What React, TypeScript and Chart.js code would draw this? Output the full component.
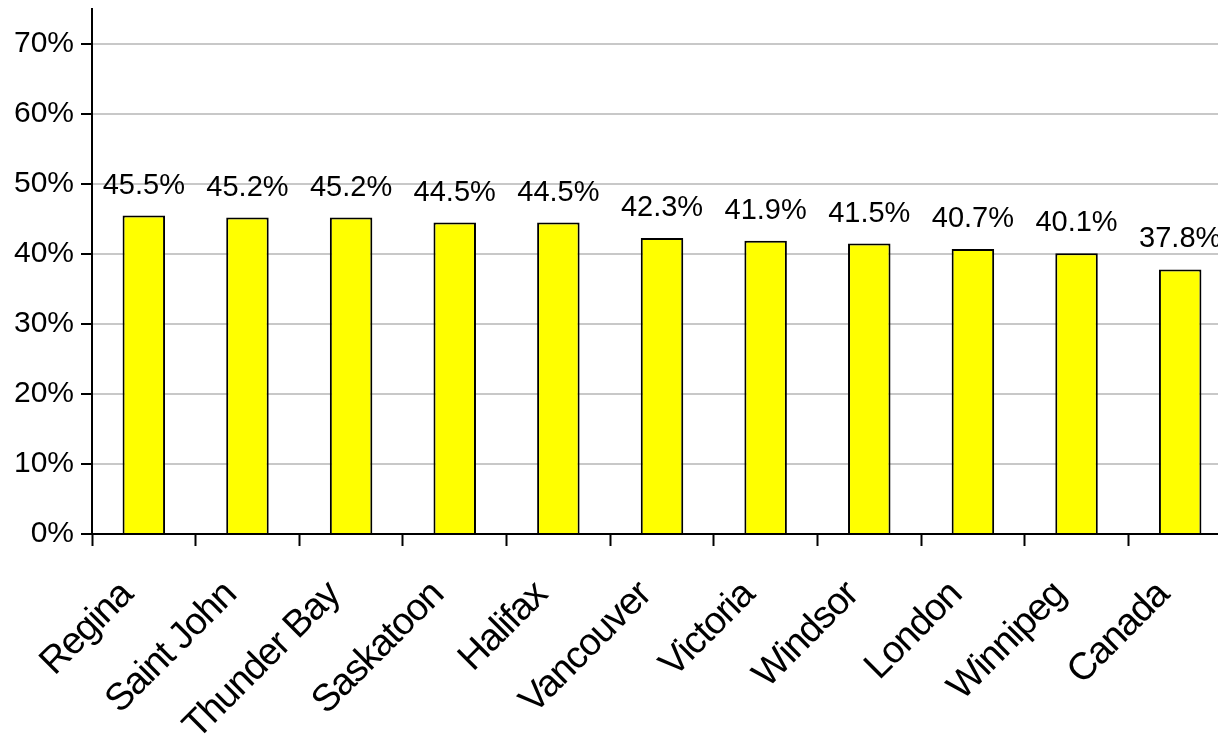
import React, { useEffect, useRef } from "react";
import { Chart, registerables } from "chart.js";

Chart.register(...registerables);

const categories = ["Regina", "Saint John", "Thunder Bay", "Saskatoon", "Halifax", "Vancouver", "Victoria", "Windsor", "London", "Winnipeg", "Canada"];
const values = [45.5, 45.2, 45.2, 44.5, 44.5, 42.3, 41.9, 41.5, 40.7, 40.1, 37.8];
const valueLabels = ["45.5%", "45.2%", "45.2%", "44.5%", "44.5%", "42.3%", "41.9%", "41.5%", "40.7%", "40.1%", "37.8%"];

const FONT = "'Liberation Sans', Arial, sans-serif";

const valueLabelPlugin = {
  id: "valueLabels",
  afterDatasetsDraw(chart: any) {
    const ctx = chart.ctx;
    const meta = chart.getDatasetMeta(0);
    ctx.save();
    ctx.font = `29px ${FONT}`;
    ctx.fillStyle = "#000";
    ctx.textAlign = "center";
    ctx.textBaseline = "alphabetic";
    meta.data.forEach((bar: any, i: number) => {
      ctx.fillText(valueLabels[i], bar.x, bar.y - 22);
    });
    ctx.restore();
  },
};

export default function App() {
  const ref = useRef<HTMLCanvasElement | null>(null);
  useEffect(() => {
    if (!ref.current) return;
    const chart = new Chart(ref.current, {
      type: "bar",
      data: {
        labels: categories,
        datasets: [
          {
            data: values,
            backgroundColor: "#ffff00",
            borderColor: "#000",
            borderWidth: 2,
            barPercentage: 0.41,
            categoryPercentage: 1,
          },
        ],
      },
      options: {
        animation: false,
        responsive: false,
        layout: { padding: { top: 9, left: 0, right: 0, bottom: 0 } },
        plugins: { legend: { display: false }, tooltip: { enabled: false } },
        scales: {
          x: {
            offset: true,
            grid: {
              offset: true,
              drawOnChartArea: false,
              drawTicks: true,
              tickLength: 12,
              tickColor: "#000",
              tickWidth: 2,
            },
            border: { display: true, color: "#000", width: 2 },
            ticks: {
              maxRotation: 45,
              minRotation: 45,
              autoSkip: false,
              color: "#000",
              font: { family: FONT, size: 38 },
              padding: 27,
              labelOffset: -17,
            },
            afterFit(scale: any) {
              scale.height = 218;
              scale.paddingLeft = 0;
              scale.paddingRight = 0;
              if (!scale._lsWrapped) {
                scale._lsWrapped = true;
                const orig = scale.drawLabels;
                scale.drawLabels = function (area: any) {
                  const ctx = this.ctx;
                  const prev = ctx.letterSpacing;
                  ctx.letterSpacing = "-1.3px";
                  orig.call(this, area);
                  ctx.letterSpacing = prev || "0px";
                };
              }
            },
          },
          y: {
            min: 0,
            max: 75,
            ticks: {
              stepSize: 10,
              includeBounds: false,
              color: "#000",
              font: { family: FONT, size: 30 },
              padding: 7,
              callback: (v: any) => `${v}%`,
            },
            grid: {
              color: (c: any) => (c.tick && c.tick.value === 0 ? "#000" : "#c8c8c8"),
              lineWidth: 2,
              tickLength: 11,
              tickColor: "#000",
              tickWidth: 2,
            },
            border: { display: true, color: "#000", width: 2 },
            afterFit(scale: any) {
              scale.width = 92;
              scale.paddingTop = 0;
              scale.paddingBottom = 0;
            },
          },
        },
      },
      plugins: [valueLabelPlugin],
    });
    return () => chart.destroy();
  }, []);
  return (
    <div style={{ position: "fixed", left: 0, top: 0, width: 1218, height: 752, overflow: "hidden", background: "#fff" }}>
      <canvas ref={ref} width={1232} height={752} style={{ display: "block" }} />
    </div>
  );
}
